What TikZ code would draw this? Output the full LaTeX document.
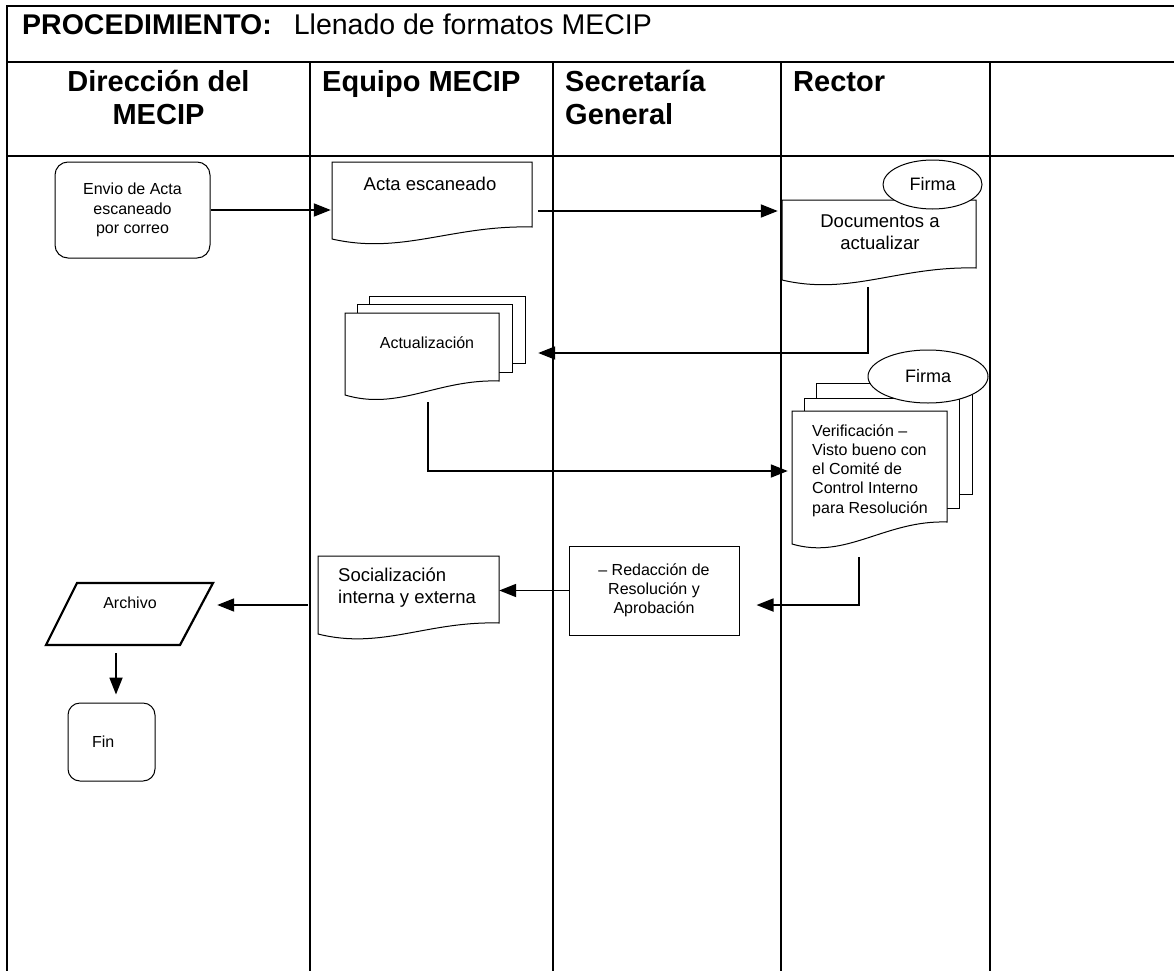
\documentclass[tikz,border=0pt]{standalone}
\usepackage{fontspec}
\setmainfont{Liberation Sans}
\usetikzlibrary{arrows.meta,shapes.geometric,calc}
\newcommand{\docshape}[5]{%
  \draw[docline] (#1,#5) -- (#1,#2) -- (#3,#2) -- (#3,#4)
    .. controls ({#1+0.6*(#3-#1)},{#4-2}) and ({#1+0.35*(#3-#1)},{#5+16}) .. (#1,#5) -- cycle;}
\tikzset{
  frame/.style={line width=1.4pt},
  docline/.style={draw, line width=1pt, fill=white},
  pagebox/.style={draw, line width=1pt, fill=white},
  conn/.style={line width=1.8pt, -{Triangle[length=17pt,width=13pt]}},
  bbox/.style={draw=none, inner sep=0pt},
  txt/.style={inner sep=0pt, align=center, font=\fontsize{16}{19.25}\selectfont},
  txtl/.style={inner sep=0pt, align=center, font=\fontsize{18.5}{22}\selectfont},
  hdr/.style={inner sep=0pt, font=\bfseries\fontsize{29}{33}\selectfont},
  roundbox/.style={draw, rounded corners=13pt, line width=1pt},
  firma/.style={ellipse, draw, fill=white, line width=1pt, inner sep=0pt, font=\fontsize{18}{21}\selectfont},
}
\begin{document}
\begin{tikzpicture}[x=1pt,y=-1pt]
\useasboundingbox (0,0) rectangle (1174,971);
\fill[white] (0,0) rectangle (1174,971);

% table frame
\draw[line width=2pt] (1174,6) -- (7,6) -- (7,971);
\draw[line width=1.6pt] (7,62) -- (1174,62);
\draw[line width=2.4pt] (7,156) -- (1174,156);
\foreach \x in {310,553,781,990} \draw[frame] (\x,62) -- (\x,971);

% title and headers
\node[anchor=base west, inner sep=0pt, font=\fontsize{28.5}{34}\selectfont] (title) at (22,35)
  {\textbf{PROCEDIMIENTO:}\hspace{22pt}Llenado de formatos MECIP};
\node[hdr, align=center] (h1) at (158.5,97.5) {Dirección del\\MECIP};
\node[hdr, anchor=base west] (h2) at (322,92) {Equipo MECIP};
\node[hdr, align=left, anchor=west] (h3) at (565,97.5) {Secretaría\\General};
\node[hdr, anchor=base west] (h4) at (793,92) {Rector};

% shapes
\docshape{332}{162}{532}{227}{239}
\docshape{782}{200}{976}{268}{280}
\node[firma, minimum width=99pt, minimum height=49pt] (firma1) at (932.5,184.5) {Firma};

\draw[pagebox] (369,296) rectangle (525,363);
\draw[pagebox] (357,304) rectangle (512,372);
\docshape{345}{313}{499}{381}{395}

\draw[pagebox] (816,383) rectangle (972,494);
\draw[pagebox] (804,398) rectangle (959,508);
\docshape{792}{411}{947}{522}{544}
\node[firma, minimum width=120pt, minimum height=53pt] (firma2) at (928,376.5) {Firma};

\docshape{318}{556}{499}{623}{634}
\draw[line width=2.2pt, line join=miter] (77,583) -- (213,583) -- (180,645) -- (46,645) -- cycle;

\node[roundbox, txt, minimum width=155pt, minimum height=96pt] (envio) at (132.5,210)
  {Envio de Acta\\escaneado\\por correo};
\node[draw, line width=1pt, txt, minimum width=170pt, minimum height=89pt] (redac) at (654,590.5)
  {– Redacción de\\Resolución y\\Aprobación};
\node[roundbox, rounded corners=12pt, txt, minimum width=87pt, minimum height=78pt,
  text width=39pt, align=left] (fin) at (111.5,742) {Fin};

% texts of drawn shapes
\node[txtl] (actaT) at (430,184) {Acta escaneado};
\node[txtl] (docsT) at (880,232) {Documentos a\\actualizar};
\node[txt] (actuT) at (427,343) {Actualización};
\node[txt, align=left, anchor=west] (verifT) at (812,470.5)
  {Verificación –\\Visto bueno con\\el Comité de\\Control Interno\\para Resolución};
\node[txtl, align=left, anchor=west] (socialT) at (338,587.5) {Socialización\\interna y externa};
\node[txt] (archivoT) at (130,603) {Archivo};

% invisible frames of drawn shapes
\node[bbox, minimum width=200pt, minimum height=81pt] (acta) at (432,202.5) {};
\node[bbox, minimum width=194pt, minimum height=84pt] (docs) at (879,242) {};
\node[bbox, minimum width=180pt, minimum height=99pt] (actu) at (435,345.5) {};
\node[bbox, minimum width=180pt, minimum height=166pt] (verif) at (882,466) {};
\node[bbox, minimum width=181pt, minimum height=82pt] (social) at (408.5,597) {};
\node[bbox, minimum width=167pt, minimum height=62pt] (archivo) at (129.5,614) {};

% connectors
\draw[conn, shorten >=1pt] (envio.east) -- (envio.east -| acta.west);
\coordinate (a1) at ([xshift=6pt,yshift=-8.5pt]acta.east);
\draw[conn, shorten >=4pt] (a1) -- (a1 -| docs.west);
\coordinate (d1) at ([xshift=-11pt,yshift=-3pt]docs.south);
\coordinate (b1) at ([xshift=13pt,yshift=-7.5pt]actu.east);
\draw[conn] (d1) |- (b1);
\coordinate (a2) at ([xshift=-7pt,yshift=-7pt]actu.south);
\coordinate (v1) at ([xshift=-4pt,yshift=-5pt]verif.west);
\draw[conn] (a2) |- (v1);
\coordinate (v2) at ([xshift=-23pt,yshift=-8pt]verif.south);
\coordinate (r1) at ([xshift=17pt,yshift=-14.5pt]redac.east);
\draw[conn] (v2) |- (r1);
\draw[conn] (redac.west) -- (redac.west -| social.east);
\coordinate (s1) at ([xshift=-10pt,yshift=-8pt]social.west);
\draw[conn, shorten >=4pt] (s1) -- (s1 -| archivo.east);
\coordinate (p1) at ([xshift=-13.5pt,yshift=-8pt]archivo.south);
\draw[conn, shorten >=8pt] (p1) -- (p1 |- fin.north);
\end{tikzpicture}
\end{document}
